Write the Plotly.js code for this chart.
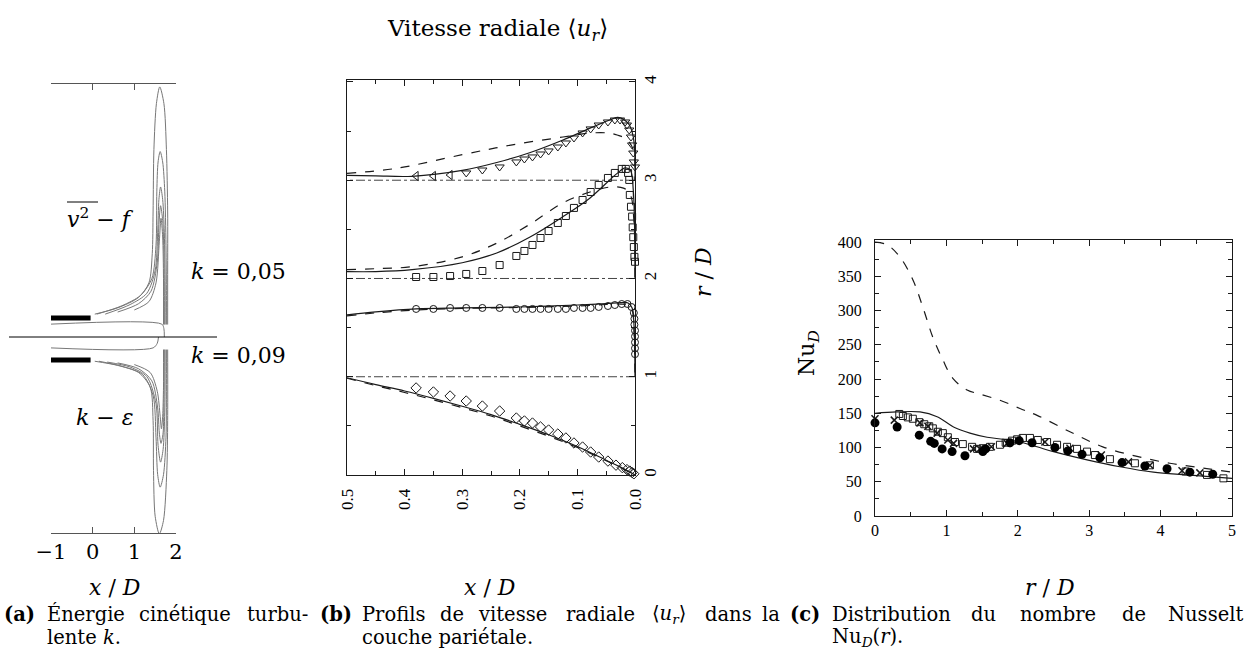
<!DOCTYPE html>
<html><head><meta charset="utf-8">
<script src="https://cdn.plot.ly/plotly-3.0.1.min.js"></script>
<style>body{margin:0;background:#fff}#chart{width:1245px;height:649px}</style>
</head><body><div id="chart"></div>
<script>
// ---------- Panel (a): contours of k (x/D, r/D) ----------
const v2fC1x=[0.05,0.6,1.1,1.35,1.43,1.45,1.47,1.53,1.61,1.71,1.77,1.8,1.8,1.8];
const v2fC1r=[0.55,0.7,0.95,1.3,2.0,3.0,4.5,5.6,6.0,5.6,4.5,3.0,1.5,0.3];
const v2fC2x=[0.1,0.7,1.15,1.42,1.52,1.54,1.57,1.62,1.68,1.73,1.76,1.77,1.77];
const v2fC2r=[0.55,0.75,1.0,1.4,2.2,3.5,4.2,4.45,4.2,3.5,2.2,1.0,0.3];
const v2fC3x=[0.3,0.9,1.3,1.5,1.56,1.59,1.63,1.68,1.72,1.74,1.74];
const v2fC3r=[0.55,0.78,1.05,1.6,2.5,3.3,3.6,3.3,2.5,1.2,0.3];
const v2fC4x=[0.6,1.1,1.4,1.55,1.59,1.63,1.68,1.71,1.72,1.72];
const v2fC4r=[0.6,0.8,1.1,1.8,2.7,3.15,2.8,2.0,1.0,0.3];
const v2fC5x=[1.0,1.35,1.52,1.6,1.64,1.68,1.7,1.7];
const v2fC5r=[0.65,0.85,1.3,2.3,2.85,2.4,1.4,0.3];
const v2fCorex=[-1,1.66,1.71,1.72];
const v2fCorer=[0.31,0.31,0.2,0];
const keC1x=[0.05,0.6,1.1,1.38,1.45,1.46,1.5,1.6,1.7,1.78,1.8,1.8];
const keC1r=[-0.58,-0.68,-0.85,-1.2,-2.0,-3.2,-4.3,-4.72,-4.4,-3.2,-2.0,-0.3];
const keC2x=[0.15,0.7,1.2,1.45,1.52,1.56,1.62,1.7,1.76,1.77,1.77];
const keC2r=[-0.58,-0.7,-0.9,-1.4,-2.4,-3.3,-3.6,-3.3,-2.4,-1.0,-0.3];
const keC3x=[0.35,0.9,1.3,1.52,1.57,1.63,1.69,1.73,1.74];
const keC3r=[-0.6,-0.72,-0.95,-1.6,-2.6,-3.0,-2.7,-1.8,-0.3];
const keC4x=[0.6,1.1,1.42,1.56,1.6,1.64,1.69,1.71,1.72];
const keC4r=[-0.62,-0.76,-1.05,-1.7,-2.3,-2.55,-2.3,-1.5,-0.3];
const keC5x=[1.0,1.38,1.55,1.62,1.65,1.68,1.7,1.7];
const keC5r=[-0.66,-0.85,-1.3,-1.9,-2.2,-1.9,-1.2,-0.3];
const keCorex=[-1,1.45,1.55,1.58];
const keCorer=[-0.26,-0.26,-0.15,0];
const nozzleX=[-1,-0.05];
const nozzleTopR=[0.46,0.46];
const nozzleBotR=[-0.55,-0.55];
const aTicks=[-1,0,1,2];

// ---------- Panel (b): radial velocity profiles ----------
const dX=[0.380,0.350,0.321,0.293,0.265,0.235,0.206,0.192,0.178,0.164,0.150,0.134,0.120,0.106,0.091,0.077,0.063,0.047,0.033,0.022,0.014,0.009,0.005,0.002];
const dY=[0.886,0.845,0.804,0.753,0.702,0.651,0.580,0.550,0.529,0.489,0.458,0.417,0.377,0.326,0.285,0.234,0.183,0.142,0.100,0.075,0.055,0.040,0.025,0.012];
const dSolidX=[0.5,0.45,0.4,0.35,0.3,0.25,0.2,0.15,0.1,0.05,0.02,0];
const dSolidY=[0.99,0.92,0.855,0.78,0.70,0.615,0.515,0.41,0.29,0.15,0.065,0];
const dDashY=[0.985,0.91,0.84,0.765,0.685,0.60,0.50,0.395,0.28,0.145,0.06,0];
const cX=[0.380,0.350,0.321,0.293,0.265,0.235,0.206,0.192,0.178,0.164,0.150,0.134,0.120,0.106,0.091,0.077,0.063,0.047,0.035,0.023,0.013,0.006,0.002,0.001,0.001,0,0,0,0,0];
const cY=[1.69,1.69,1.70,1.70,1.70,1.70,1.69,1.69,1.69,1.69,1.69,1.69,1.69,1.70,1.70,1.70,1.71,1.72,1.73,1.74,1.74,1.71,1.65,1.59,1.53,1.47,1.41,1.35,1.29,1.23];
const cLineX=[0.5,0.45,0.38,0.3,0.2,0.1,0.05,0.025,0.012,0.005,0.002,0];
const cSolidY=[1.63,1.66,1.69,1.70,1.71,1.73,1.745,1.755,1.75,1.70,1.55,1.0];
const cDashY=[1.62,1.65,1.68,1.695,1.705,1.72,1.735,1.74,1.73,1.68,1.5,1.0];
const sX=[0.380,0.350,0.321,0.293,0.265,0.235,0.206,0.192,0.178,0.164,0.150,0.134,0.120,0.106,0.091,0.077,0.063,0.047,0.035,0.023,0.016,0.012,0.010,0.009,0.007,0.005,0.004,0.003,0.002,0.001,0.0];
const sY=[2.015,2.015,2.025,2.046,2.076,2.137,2.229,2.280,2.341,2.412,2.483,2.565,2.636,2.718,2.799,2.880,2.952,3.023,3.074,3.115,3.115,3.074,3.003,2.85,2.73,2.63,2.52,2.42,2.32,2.22,2.17];
const sSolidX=[0.5,0.45,0.387,0.3,0.24,0.183,0.125,0.078,0.031,0.017,0.008,0.003,0];
const sSolidY=[2.07,2.07,2.09,2.16,2.26,2.42,2.63,2.82,3.07,3.125,3.10,2.9,2.0];
const sDashX=[0.5,0.45,0.387,0.3,0.24,0.183,0.125,0.078,0.044,0.02,0.008,0.002,0];
const sDashY=[2.09,2.10,2.12,2.22,2.36,2.55,2.77,2.88,2.93,2.92,2.85,2.6,2.0];
const tX=[0.380,0.350,0.321,0.293,0.265,0.235,0.206,0.192,0.178,0.164,0.150,0.134,0.120,0.106,0.091,0.077,0.063,0.047,0.035,0.026,0.017,0.014,0.010,0.007,0.005,0.003,0.002,0.0];
const tY=[3.043,3.043,3.053,3.074,3.104,3.135,3.186,3.216,3.237,3.267,3.298,3.338,3.379,3.430,3.481,3.522,3.562,3.593,3.613,3.613,3.593,3.562,3.511,3.440,3.359,3.277,3.186,3.135];
const tSolidX=[0.5,0.45,0.387,0.3,0.24,0.183,0.125,0.078,0.045,0.03,0.012,0.003,0];
const tSolidY=[3.05,3.045,3.04,3.10,3.18,3.28,3.41,3.53,3.61,3.64,3.58,3.44,3.0];
const tDashX=[0.5,0.415,0.3,0.213,0.125,0.078,0.045,0.031,0.015,0.003,0];
const tDashY=[3.07,3.12,3.26,3.36,3.44,3.48,3.48,3.46,3.42,3.31,3.0];
const baseX=[0,0.5];
const baseLevels=[1,2,3];

// ---------- Panel (c): Nusselt number ----------
const ncDashX=[0,0.17,0.35,0.53,0.67,0.81,0.95,1.09,1.29,1.47,1.75,2.03,2.27,2.73,3.19,3.67,4.13,4.59,5.0];
const ncDashY=[400,396,378,345,305,261,228,201,184,178,169,157,147,123,101,87,77,70,64];
const ncSolidX=[0,0.3,0.63,0.87,1.1,1.33,1.57,1.8,2.03,2.27,2.5,2.97,3.43,3.9,4.37,5.0];
const ncSolidY=[150,152,152,145,130,121,115,112,108,101,94,82,72,64,60,55];
const ncSqX=[0.34,0.39,0.46,0.53,0.62,0.69,0.76,0.81,0.88,0.95,1.02,1.12,1.23,1.36,1.43,1.51,1.61,1.75,1.83,1.92,1.99,2.07,2.17,2.28,2.41,2.55,2.69,2.83,2.97,3.08,3.29,3.64,3.85,4.35,4.65,4.88];
const ncSqY=[149,146,144,142,137,134,131,128,123,121,115,108,105,101,98,99,101,104,107,110,112,114,114,111,108,104,101,98,94,89,83,77,74,65,60,55];
const ncCrossX=[0,0.27,0.63,0.74,0.87,1.02,1.1,1.38,1.47,1.63,1.85,2.38,2.73,3.17,3.55,3.85,4.3,4.55];
const ncCrossY=[142,140,136,131,121,111,106,98,98,101,106,108,99,89,79,74,66,63];
const ncDotX=[0,0.31,0.62,0.78,0.83,0.94,1.08,1.26,1.51,1.55,1.89,2.02,2.2,2.52,2.7,2.9,3.15,3.46,3.78,4.09,4.41,4.73];
const ncDotY=[136,130,118,109,106,98,94,88,94,98,107,110,107,100,95,90,85,78,73,69,64,61];

// ---------- build ----------
const W=1245,H=649;
const px=x=>x/W, py=y=>1-y/H;
const SERIF='"Liberation Serif", serif';
const TEX='"DejaVu Serif", "Liberation Serif", serif';
const ink='#1a1a1a';
const traces=[];
function line(x,y,xa,ya,opt){traces.push(Object.assign({type:'scatter',mode:'lines',x:x,y:y,xaxis:xa,yaxis:ya,hoverinfo:'skip',showlegend:false},opt));}
function pts(x,y,xa,ya,marker){traces.push({type:'scatter',mode:'markers',x:x,y:y,xaxis:xa,yaxis:ya,marker:marker,hoverinfo:'skip',showlegend:false,cliponaxis:false});}

const contourStyle={line:{color:'#777',width:1,shape:'spline',smoothing:0.8}};
[[v2fC1x,v2fC1r],[v2fC2x,v2fC2r],[v2fC3x,v2fC3r],[v2fC4x,v2fC4r],[v2fC5x,v2fC5r],[v2fCorex,v2fCorer],
 [keC1x,keC1r],[keC2x,keC2r],[keC3x,keC3r],[keC4x,keC4r],[keC5x,keC5r],[keCorex,keCorer]].forEach(c=>line(c[0],c[1],'x','y',contourStyle));
line(nozzleX,nozzleTopR,'x','y',{line:{color:'#000',width:5}});
line(nozzleX,nozzleBotR,'x','y',{line:{color:'#000',width:5}});

// panel b
baseLevels.forEach(v=>line(baseX,[v,v],'x2','y2',{line:{color:'#444',width:1,dash:'dashdot'}}));
line(dSolidX,dSolidY,'x2','y2',{line:{color:ink,width:1.2,shape:'spline'}});
line(dSolidX,dDashY,'x2','y2',{line:{color:ink,width:1.2,dash:'dash',shape:'spline'}});
line(cLineX,cSolidY,'x2','y2',{line:{color:ink,width:1.2,shape:'spline'}});
line(cLineX,cDashY,'x2','y2',{line:{color:ink,width:1.2,dash:'dash',shape:'spline'}});
line(sSolidX,sSolidY,'x2','y2',{line:{color:ink,width:1.2,shape:'spline'}});
line(sDashX,sDashY,'x2','y2',{line:{color:ink,width:1.2,dash:'dash',shape:'spline'}});
line(tSolidX,tSolidY,'x2','y2',{line:{color:ink,width:1.2,shape:'spline'}});
line(tDashX,tDashY,'x2','y2',{line:{color:ink,width:1.2,dash:'dash',shape:'spline'}});
const mk=(s,sz)=>({symbol:s,size:sz,color:ink,line:{color:ink,width:1}});
pts(dX,dY,'x2','y2',mk('diamond-open',8));
pts(cX,cY,'x2','y2',mk('circle-open',7));
pts(sX,sY,'x2','y2',mk('square-open',7));
pts(tX,tY,'x2','y2',{symbol:tX.map((v,i)=>i<3?'triangle-left-open':'triangle-down-open'),size:8,color:ink,line:{color:ink,width:1}});

// panel c
line(ncDashX,ncDashY,'x3','y3',{line:{color:ink,width:1.2,dash:'dash',shape:'spline'}});
line(ncSolidX,ncSolidY,'x3','y3',{line:{color:ink,width:1.1,shape:'spline'}});
pts(ncSqX,ncSqY,'x3','y3',mk('square-open',7));
pts(ncCrossX,ncCrossY,'x3','y3',{symbol:'x-thin-open',size:7,color:ink,line:{color:ink,width:1.5}});
pts(ncDotX,ncDotY,'x3','y3',{symbol:'circle',size:9,color:'#000'});

const axBase={showgrid:false,zeroline:false,showline:true,linecolor:ink,linewidth:1,mirror:'ticks',ticks:'inside',tickcolor:ink,fixedrange:true};
const tickF={family:SERIF,size:16,color:'#000'};

const layout={
  width:W,height:H,margin:{l:0,r:0,t:0,b:0},paper_bgcolor:'#fff',plot_bgcolor:'rgba(0,0,0,0)',showlegend:false,
  title:{text:'Vitesse radiale ⟨<i>u</i><sub><i>r</i></sub>⟩',x:px(498),y:py(28),xanchor:'center',yanchor:'middle',font:{family:TEX,size:23,color:'#000'}},
  xaxis:Object.assign({},axBase,{domain:[px(51),px(176)],range:[-1,2],anchor:'y',tickmode:'array',tickvals:aTicks,ticklen:6,linecolor:'#555',tickcolor:'#555',tickfont:{family:TEX,size:21,color:'#000'}}),
  yaxis:{domain:[py(533),py(84)],range:[-4.70,6.07],visible:false,fixedrange:true},
  xaxis2:Object.assign({},axBase,{domain:[px(347),px(635)],range:[0.5,0],anchor:'y2',dtick:0.1,tick0:0,tickformat:'.1f',ticklen:6,tickangle:-90,tickfont:{family:SERIF,size:17,color:'#000'},ticklabelstandoff:6,minor:{dtick:0.05,ticks:'inside',ticklen:4,tickcolor:ink}}),
  yaxis2:Object.assign({},axBase,{domain:[py(475),py(80)],range:[0,4.02],anchor:'x2',side:'right',dtick:1,tick0:0,ticklen:6,tickangle:-90,tickfont:{family:SERIF,size:17,color:'#000'},minor:{dtick:0.5,ticks:'inside',ticklen:4,tickcolor:ink}}),
  xaxis3:Object.assign({},axBase,{domain:[px(875),px(1232)],range:[0,5],anchor:'y3',dtick:1,tick0:0,ticklen:6,tickfont:tickF,minor:{dtick:0.5,ticks:'inside',ticklen:4,tickcolor:ink}}),
  yaxis3:Object.assign({},axBase,{domain:[py(516),py(240)],range:[0,403],anchor:'x3',dtick:50,tick0:0,ticklen:6,tickfont:tickF,ticklabelstandoff:9,minor:{dtick:25,ticks:'inside',ticklen:4,tickcolor:ink}}),
  shapes:[{type:'line',xref:'paper',yref:'paper',x0:px(9),x1:px(217),y0:py(337),y1:py(337),line:{color:'#000',width:1}}],
  annotations:[]
};
const A=(t,x,y,o)=>layout.annotations.push(Object.assign({text:t,x:px(x),y:py(y),xref:'paper',yref:'paper',showarrow:false,xanchor:'center',yanchor:'middle',font:{family:TEX,size:22,color:'#000'}},o||{}));
// panel a labels
A('<i>v</i><sup>2</sup> − <i>f</i>',65,218,{xanchor:'left'});
layout.shapes.push({type:'line',xref:'paper',yref:'paper',x0:px(67),x1:px(98),y0:py(202),y1:py(202),line:{color:'#000',width:1}});
A('<i>k</i> = 0,05',189,271,{xanchor:'left'});
A('<i>k</i> = 0,09',189,355,{xanchor:'left'});
A('<i>k</i> − <i>ε</i>',74,418,{xanchor:'left'});
A('<i>x</i> / <i>D</i>',115,587);
A('<i>x</i> / <i>D</i>',490,587);
A('<i>r</i> / <i>D</i>',1050,587);
A('<i>r</i> / <i>D</i>',703,272,{textangle:-90});
A('Nu<sub><i>D</i></sub>',808,353,{textangle:-90});
// captions (justified word by word)
const capF={family:TEX,size:19.5,color:'#000'};
const L=(t,x,y,anchor)=>A(t,x,y,{xanchor:anchor||'left',font:capF});
L('<b>(a)</b>',2,614); L('Énergie',45,614); L('cinétique',137,614); L('turbu-',310,614,'right');
L('lente <i>k</i>.',45,637);
L('<b>(b)</b>',318,614); L('Profils',360,614); L('de',438,614); L('vitesse',476,614); L('radiale',564,614);
L('⟨<i>u</i><sub><i>r</i></sub>⟩',650,614); L('dans',703,614); L('la',782,614,'right');
L('couche pariétale.',360,637);
L('<b>(c)</b>',788,614); L('Distribution',830,614); L('du',969,614); L('nombre',1018,614); L('de',1120,614);
L('Nusselt',1245,614,'right');
L('Nu<sub><i>D</i></sub>(<i>r</i>).',830,637);

Plotly.newPlot('chart',traces,layout,{staticPlot:true,displayModeBar:false});
</script></body></html>
